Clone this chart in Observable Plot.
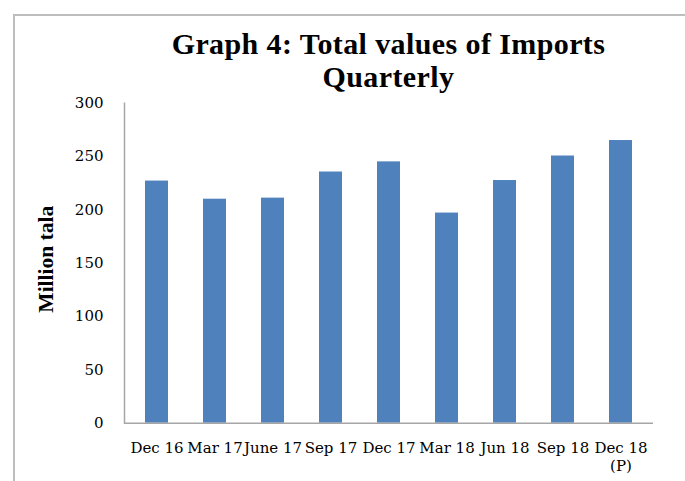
<!DOCTYPE html>
<html>
<head>
<meta charset="utf-8">
<script src="https://cdn.jsdelivr.net/npm/d3@7"></script>
<script src="https://cdn.jsdelivr.net/npm/@observablehq/plot@0.6"></script>
<style>
  html, body { margin: 0; padding: 0; background: #fff; }
  #wrap { position: relative; width: 685px; height: 481px; overflow: hidden; }
  #border { position: absolute; left: 13px; top: 14px; width: 720px; height: 520px;
            border-left: 2px solid #bdbdbd; border-top: 2px solid #bdbdbd; }
  .title { position: absolute; left: 124px; width: 529px; text-align: center;
           font-family: "Liberation Serif", serif; font-weight: bold; font-size: 30px;
           letter-spacing: 0.4px; line-height: 33.5px; height: 33.5px; color: #000; white-space: nowrap; }
  #t1 { top: 26.6px; }
  #t2 { top: 60.1px; }
  #chart { position: absolute; left: 0; top: 0; }
</style>
</head>
<body>
<div id="wrap">
  <div id="border"></div>
  <div id="chart"></div>
  <div id="t1" class="title">Graph 4: Total values of Imports</div>
  <div id="t2" class="title">Quarterly</div>
</div>
<script>
const quarters = ["Dec 16", "Mar 17", "June 17", "Sep 17", "Dec 17", "Mar 18", "Jun 18", "Sep 18", "Dec 18\n(P)"];
const imports = [227, 210, 211, 235.5, 245, 197, 227.5, 250.5, 265];
const yTicks = [0, 50, 100, 150, 200, 250, 300];
const yLabel = "Million tala";

const data = quarters.map((q, i) => ({q, v: imports[i]}));

const chart = Plot.plot({
  width: 685,
  height: 481,
  marginTop: 102.7,
  marginBottom: 58.3,
  marginLeft: 124,
  marginRight: 32,
  style: {fontFamily: "DejaVu Serif", fontSize: "15px", color: "#000", background: "transparent"},
  x: {domain: quarters, paddingInner: 0.6, paddingOuter: 0.3, label: null},
  y: {domain: [0, 300], label: null},
  marks: [
    Plot.barY(data, {x: "q", y: "v", fill: "#4f81bd"}),
    Plot.frame({anchor: "left", stroke: "#a6a6a6", strokeWidth: 1.5}),
    Plot.ruleY([0], {stroke: "#a6a6a6", strokeWidth: 1.5}),
    Plot.axisY({ticks: yTicks, tickSize: 0, tickPadding: 21, label: null, fontSize: 15}),
    Plot.axisX({tickSize: 0, tickPadding: 17, label: null, fontSize: 15, lineHeight: 1.2}),
    Plot.text([yLabel], {text: d => d, frameAnchor: "left", textAnchor: "middle", rotate: -90, dx: -78, dy: -4,
      fontFamily: "Liberation Serif", fontWeight: "bold", fontSize: 21.5, fill: "#000"})
  ]
});
document.getElementById("chart").appendChild(chart);
</script>
</body>
</html>
